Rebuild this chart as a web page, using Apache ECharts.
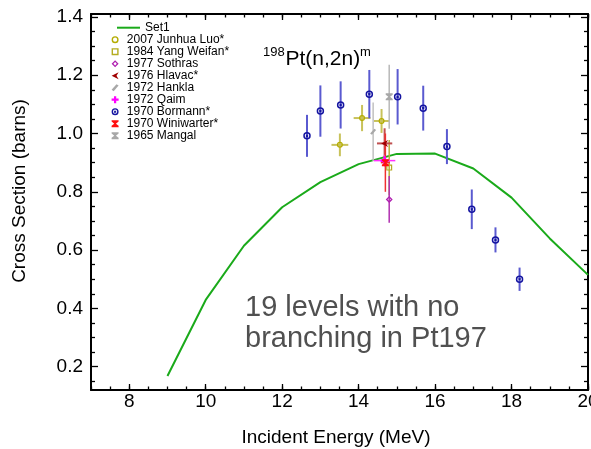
<!DOCTYPE html>
<html><head><meta charset="utf-8">
<script src="https://cdn.jsdelivr.net/npm/echarts@6/dist/echarts.min.js"></script>
<style>html,body{margin:0;padding:0;background:#fff}#c{width:591px;height:449px}</style>
</head><body><div id="c"></div>
<script>
const FONT = "'Liberation Sans', Arial, Helvetica, sans-serif";

// ---- tick labels ----
const xMajorTicks = [8, 10, 12, 14, 16, 18, 20];
const yMajorTicks = [0.2, 0.4, 0.6, 0.8, 1.0, 1.2, 1.4];

// ---- Set1 (model curve) ----
const set1X = [9, 10, 11, 12, 13, 14, 15, 16, 17, 18, 19, 20];
const set1Y = [0.168, 0.429, 0.615, 0.747, 0.833, 0.895, 0.930, 0.931, 0.880, 0.780, 0.640, 0.515];

// ---- experimental data ----
const luoX = [13.51, 14.09, 14.60];
const luoY = [0.961, 1.053, 1.043];
const luoYErr = [0.039, 0.045, 0.041];
const luoXErr = [0.22, 0.22, 0.20];

const yangX = [14.80];
const yangY = [0.883];
const yangYErr = [0.095];

const sothrasX = [14.80];
const sothrasY = [0.774];
const sothrasYErr = [0.08];

const hlavacX = [14.68];
const hlavacY = [0.966];
const hlavacYErr = [0.052];
const hlavacXErr = [0.20];

const hanklaX = [14.38];
const hanklaY = [1.006];
const hanklaYErr = [0.10];

const qaimX = [14.68];
const qaimY = [0.907];
const qaimYErr = [0.02];
const qaimXErr = [0.28];

const bormannX = [12.65, 13.00, 13.53, 14.28, 15.02, 15.69, 16.31, 16.96, 17.58, 18.21];
const bormannY = [0.992, 1.077, 1.098, 1.135, 1.126, 1.087, 0.955, 0.740, 0.635, 0.500];
const bormannYErr = [0.072, 0.088, 0.081, 0.083, 0.095, 0.077, 0.060, 0.068, 0.043, 0.040];

const winiX = [14.70];
const winiY = [0.900];
const winiYErr = [0.10];
const winiXErr = [0.12];

const mangalX = [14.80];
const mangalY = [1.126];
const mangalYErr = [0.11];

// ---- symbols ----
const SYM = {
  line: 'path://M0,0 H23 V2 H0 Z',
  circle: 'path://M5,0 A5,5 0 1,1 5,10 A5,5 0 1,1 5,0 Z M5,2 A3,3 0 1,0 5,8 A3,3 0 1,0 5,2 Z',
  square: 'path://M0,0 H10 V10 H0 Z M2,2 V8 H8 V2 Z',
  diamond: 'path://M5,0 L10,5 L5,10 L0,5 Z M5,2.6 L2.6,5 L5,7.4 L7.4,5 Z',
  leftTri: 'path://M10,0 L0,5 L10,10 L7,5 Z',
  slant: 'path://M7,0 L10,2 L3,10 L0,8 Z',
  plus: 'path://M3.4,0 H6.6 V3.4 H10 V6.6 H6.6 V10 H3.4 V6.6 H0 V3.4 H3.4 Z',
  ringX: 'path://M5,0 A5,5 0 1,1 5,10 A5,5 0 1,1 5,0 Z M5,2 A3,3 0 1,0 5,8 A3,3 0 1,0 5,2 Z M3.2,4.2 L4.2,3.2 L6.8,5.8 L5.8,6.8 Z M5.8,3.2 L6.8,4.2 L4.2,6.8 L3.2,5.8 Z',
  hourglass: 'path://M0,0 H10 V2 L6.2,5 L10,8 V10 H0 V8 L3.8,5 L0,2 Z'
};

const datasets = [
  {name: '2007 Junhua Luo*', xs: luoX, ys: luoY, ye: luoYErr, xe: luoXErr, sym: SYM.circle, size: 6, color: '#b4ac00', bar: '#c8c25a', bw: 2},
  {name: '1984 Yang Weifan*', xs: yangX, ys: yangY, ye: yangYErr, xe: null, sym: SYM.square, size: 6, color: '#b4ac20', bar: '#b8b040', bw: 1.5},
  {name: '1977 Sothras', xs: sothrasX, ys: sothrasY, ye: sothrasYErr, xe: null, sym: SYM.diamond, size: 7, color: '#b020b0', bar: '#b030b0', bw: 1.5},
  {name: '1976 Hlavac*', xs: hlavacX, ys: hlavacY, ye: hlavacYErr, xe: hlavacXErr, sym: SYM.leftTri, size: 7, color: '#a00000', bar: '#c05050', bw: 2},
  {name: '1972 Hankla', xs: hanklaX, ys: hanklaY, ye: hanklaYErr, xe: null, sym: SYM.slant, size: 6, color: '#a8a8a8', bar: '#c0c0c0', bw: 1.5},
  {name: '1972 Qaim', xs: qaimX, ys: qaimY, ye: qaimYErr, xe: qaimXErr, sym: SYM.plus, size: 8, color: '#ff00ff', bar: '#ff30ff', bw: 1.5},
  {name: '1970 Bormann*', xs: bormannX, ys: bormannY, ye: bormannYErr, xe: null, sym: SYM.ringX, size: 7.5, color: '#1414a0', bar: '#5a5ad0', bw: 2},
  {name: '1970 Winiwarter*', xs: winiX, ys: winiY, ye: winiYErr, xe: winiXErr, sym: SYM.hourglass, size: 7, color: '#ff1010', bar: '#f03030', bw: 1.5},
  {name: '1965 Mangal', xs: mangalX, ys: mangalY, ye: mangalYErr, xe: null, sym: SYM.hourglass, size: 7, color: '#a8a8a8', bar: '#b8b8b8', bw: 1.5}
];

const X_MIN = 7, X_MAX = 20, Y_MIN = 0.12, Y_MAX = 1.41;

const yMinorTicks = [];
for (let k = 3; k * 0.05 <= Y_MAX + 1e-9; k++) {
  if (k % 4 !== 0) yMinorTicks.push(+(k * 0.05).toFixed(2));
}

const axLine = {show: true, onZero: false, lineStyle: {color: '#000', width: 2}};
const noLine = {show: false, onZero: false};
const tickStyle = {color: '#000', width: 1.3};
const labelBase = {color: '#000', fontSize: 19, fontFamily: FONT};

const xAxis = [
  {type: 'value', position: 'bottom', min: X_MIN, max: X_MAX, axisLine: axLine,
   axisTick: {inside: true, length: 6, customValues: xMajorTicks, lineStyle: tickStyle},
   axisLabel: Object.assign({customValues: xMajorTicks, margin: 2, hideOverlap: false}, labelBase),
   splitLine: {show: false}},
  {type: 'value', position: 'bottom', min: X_MIN, max: X_MAX, interval: 0.5, axisLine: noLine,
   axisTick: {inside: true, length: 3.5, lineStyle: tickStyle}, axisLabel: {show: false}, splitLine: {show: false}},
  {type: 'value', position: 'top', min: X_MIN, max: X_MAX, axisLine: axLine,
   axisTick: {inside: true, length: 6, customValues: xMajorTicks, lineStyle: tickStyle},
   axisLabel: {show: false}, splitLine: {show: false}},
  {type: 'value', position: 'top', min: X_MIN, max: X_MAX, interval: 0.5, axisLine: noLine,
   axisTick: {inside: true, length: 3.5, lineStyle: tickStyle}, axisLabel: {show: false}, splitLine: {show: false}}
];
const yAxis = [
  {type: 'value', position: 'left', min: Y_MIN, max: Y_MAX, axisLine: axLine,
   axisTick: {inside: true, length: 7, customValues: yMajorTicks, lineStyle: tickStyle},
   axisLabel: Object.assign({customValues: yMajorTicks, margin: 8, formatter: v => v.toFixed(1)}, labelBase),
   splitLine: {show: false}},
  {type: 'value', position: 'left', min: Y_MIN, max: Y_MAX, axisLine: noLine,
   axisTick: {inside: true, length: 4, customValues: yMinorTicks, lineStyle: tickStyle},
   axisLabel: {show: false}, splitLine: {show: false}},
  {type: 'value', position: 'right', min: Y_MIN, max: Y_MAX, axisLine: axLine,
   axisTick: {inside: true, length: 7, customValues: yMajorTicks, lineStyle: tickStyle},
   axisLabel: {show: false}, splitLine: {show: false}},
  {type: 'value', position: 'right', min: Y_MIN, max: Y_MAX, axisLine: noLine,
   axisTick: {inside: true, length: 4, customValues: yMinorTicks, lineStyle: tickStyle},
   axisLabel: {show: false}, splitLine: {show: false}}
];

function errSeries(d) {
  return {
    type: 'custom', name: d.name + ' err', xAxisIndex: 0, yAxisIndex: 0, z: 3, silent: true,
    data: d.xs.map((x, i) => [x, d.ys[i], d.ye[i], d.xe ? d.xe[i] : 0]),
    encode: {x: 0, y: 1},
    renderItem: (params, api) => {
      const x = api.value(0), y = api.value(1), ey = api.value(2), ex = api.value(3);
      const children = [];
      const t = api.coord([x, y + ey]), b = api.coord([x, y - ey]);
      children.push({type: 'line', shape: {x1: t[0], y1: t[1], x2: b[0], y2: b[1]},
        style: {stroke: d.bar, lineWidth: d.bw}});
      if (ex > 0) {
        const l = api.coord([x - ex, y]), r = api.coord([x + ex, y]);
        children.push({type: 'line', shape: {x1: l[0], y1: l[1], x2: r[0], y2: r[1]},
          style: {stroke: d.bar, lineWidth: d.bw}});
      }
      return {type: 'group', children};
    }
  };
}

const series = [
  {type: 'line', name: 'Set1', xAxisIndex: 0, yAxisIndex: 0, z: 2,
   data: set1X.map((x, i) => [x, set1Y[i]]), showSymbol: false, symbol: 'none',
   lineStyle: {color: '#1aaa1a', width: 2}, itemStyle: {color: '#1aaa1a'}}
];
datasets.forEach(d => series.push(errSeries(d)));
datasets.forEach(d => series.push({
  type: 'scatter', name: d.name, xAxisIndex: 0, yAxisIndex: 0, z: 4,
  data: d.xs.map((x, i) => [x, d.ys[i]]),
  symbol: d.sym, symbolSize: d.size, itemStyle: {color: d.color, opacity: 1}
}));

const legendText = {fontSize: 12, lineHeight: 12, color: '#000', fontFamily: FONT};

const option = {
  animation: false,
  backgroundColor: '#fff',
  grid: {left: 91, right: 3, top: 14, bottom: 59, containLabel: false, outerBoundsMode: 'none'},
  xAxis, yAxis, series,
  legend: [
    {data: [{name: 'Set1', icon: SYM.line}], left: 117, top: 21.7, orient: 'vertical', padding: 0,
     itemWidth: 23, itemHeight: 8, itemGap: 0, textStyle: legendText, selectedMode: false, symbolKeepAspect: true},
    {data: datasets.map(d => ({name: d.name, icon: d.sym})), left: 111.6, top: 33.7, orient: 'vertical', padding: 0,
     itemWidth: 13.4, itemHeight: 7, itemGap: 0, textStyle: legendText, selectedMode: false, symbolKeepAspect: true}
  ],
  graphic: [
    {type: 'text', x: 336, y: 437.5, silent: true,
     style: {text: 'Incident Energy (MeV)', fontSize: 19, fontFamily: FONT, fill: '#000',
       align: 'center', verticalAlign: 'middle', textAlign: 'center', textVerticalAlign: 'middle'}},
    {type: 'text', x: 19.5, y: 191, rotation: Math.PI / 2, silent: true,
     style: {text: 'Cross Section (barns)', fontSize: 19, fontFamily: FONT, fill: '#000',
       align: 'center', verticalAlign: 'middle', textAlign: 'center', textVerticalAlign: 'middle'}},
    {type: 'text', x: 263, y: 52.5, silent: true,
     style: {text: '198', fontSize: 13, fontFamily: FONT, fill: '#000',
       align: 'left', verticalAlign: 'middle', textAlign: 'left', textVerticalAlign: 'middle'}},
    {type: 'text', x: 285.5, y: 59, silent: true,
     style: {text: 'Pt(n,2n)', fontSize: 21, fontFamily: FONT, fill: '#000',
       align: 'left', verticalAlign: 'middle', textAlign: 'left', textVerticalAlign: 'middle'}},
    {type: 'text', x: 360, y: 52.5, silent: true,
     style: {text: 'm', fontSize: 13, fontFamily: FONT, fill: '#000',
       align: 'left', verticalAlign: 'middle', textAlign: 'left', textVerticalAlign: 'middle'}},
    {type: 'text', x: 245, y: 292.8, silent: true,
     style: {text: '19 levels with no\nbranching in Pt197', fontSize: 29, lineHeight: 31, fontFamily: FONT, fill: '#505050',
       align: 'left', verticalAlign: 'top', textAlign: 'left', textVerticalAlign: 'top'}}
  ]
};

const chart = echarts.init(document.getElementById('c'), null, {renderer: 'canvas'});
chart.setOption(option);
</script>
</body></html>
